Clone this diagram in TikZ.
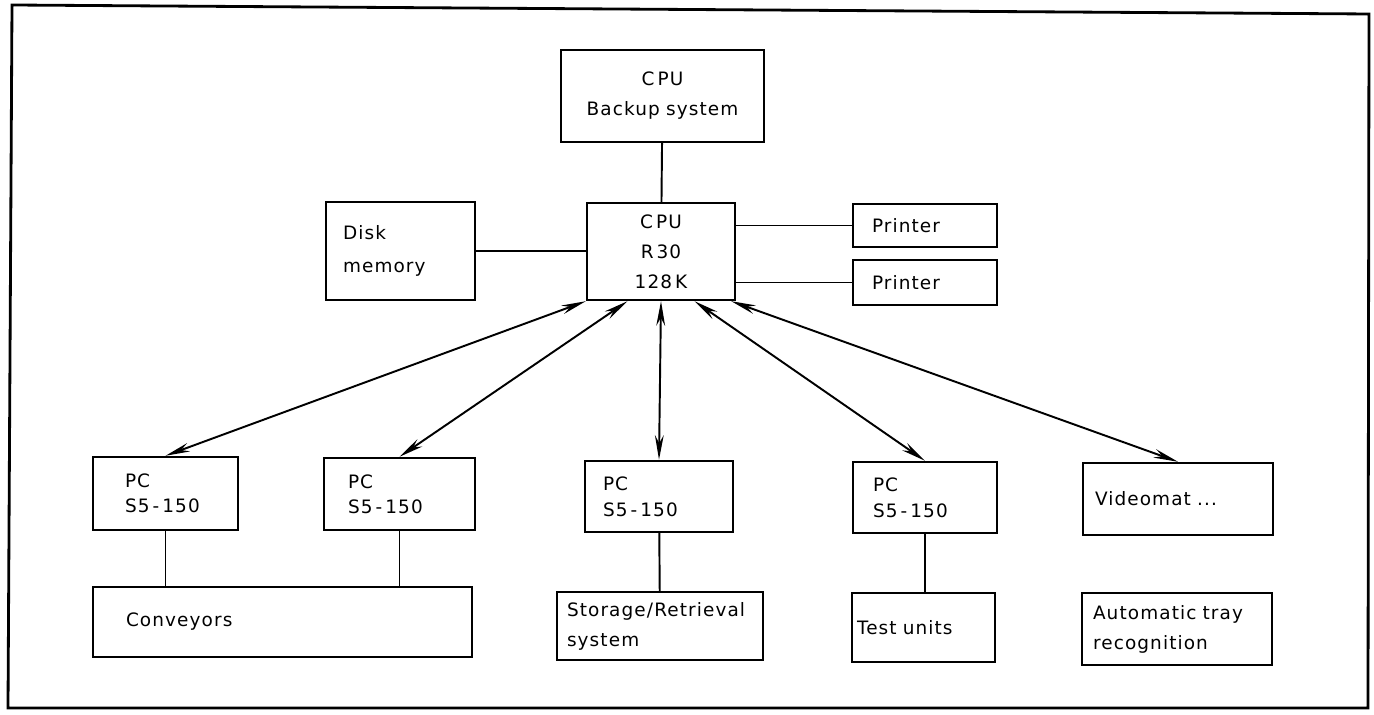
\documentclass[tikz,border=0pt]{standalone}
\usepackage{fontspec}
\setmainfont{DejaVu Sans}[LetterSpace=6]
\usetikzlibrary{calc,arrows.meta}
\tikzset{
  unit/.style={draw, line width=1.4pt, inner ysep=0pt},
  link/.style={line width=1.1pt},
  twoway/.style={line width=1.1pt, {Stealth[length=14pt,width=5pt]}-{Stealth[length=14pt,width=5pt]}}
}

\begin{document}
\begin{tikzpicture}[x=0.02cm, y=-0.02cm, font=\fontsize{10.5}{17}\selectfont]
  \useasboundingbox (0,0) rectangle (1374,715);
  \draw[line width=1.6pt] (12,5) -- (1369,14) -- (1368,708) -- (8,708) -- cycle;

  \node[unit, align=center, text width=3.58cm, inner xsep=.24cm, minimum height=1.84cm] (backup) at (662.5,96) {C\,PU\\Backup~system};
  \node[unit, align=center, text width=2.56cm, inner xsep=.2cm, minimum height=1.94cm] (cpu) at (661,251.5) {C\,PU\\R\,30\\128\,K};
  \node[unit, align=left, text width=2.30cm, inner xsep=.34cm, minimum height=1.96cm, font=\fontsize{10.5}{19}\selectfont] (disk) at (400.5,251) {Disk\\memory};
  \node[unit, align=left, text width=2.12cm, inner xsep=.38cm, minimum height=.86cm] (prA) at (925,225.5) {Printer};
  \node[unit, align=left, text width=2.12cm, inner xsep=.38cm, minimum height=.90cm] (prB) at (925,282.5) {Printer};

  \node[unit, align=left, text width=1.62cm, inner xsep=.64cm, minimum height=1.46cm, font=\fontsize{10.5}{14}\selectfont] (pcA) at (165.5,493.5) {PC\\S5\,-\,150};
  \node[unit, align=left, text width=2.06cm, inner xsep=.48cm, minimum height=1.44cm, font=\fontsize{10.5}{14}\selectfont] (pcB) at (399.5,494) {PC\\S5\,-\,150};
  \node[unit, align=left, text width=2.24cm, inner xsep=.36cm, minimum height=1.42cm, font=\fontsize{10.5}{15}\selectfont] (pcC) at (659,496.5) {PC\\S5\,-\,150};
  \node[unit, align=left, text width=2.08cm, inner xsep=.40cm, minimum height=1.42cm, font=\fontsize{10.5}{15}\selectfont] (pcD) at (925,497.5) {PC\\S5\,-\,150};
  \node[unit, align=left, text width=3.32cm, inner xsep=.24cm, minimum height=1.44cm] (video) at (1178,499) {Videomat~...};

  \node[unit, align=left, text width=6.26cm, inner xsep=.66cm, minimum height=1.40cm] (conv) at (282.5,622) {Conveyors};
  \node[unit, align=left, text width=3.72cm, inner xsep=.20cm, minimum height=1.36cm] (store) at (660,626) {Storage/Retrieval\\system};
  \node[unit, align=left, text width=2.66cm, inner xsep=.10cm, minimum height=1.38cm] (test) at (923.5,627.5) {Test~units};
  \node[unit, align=left, text width=3.36cm, inner xsep=.22cm, minimum height=1.44cm] (auto) at (1177,629) {Automatic~tray\\recognition};

  \draw[link] (backup) -- (cpu);
  \draw[link] (disk.east) -- (disk.east -| cpu.west);
  \draw[link] (prA.west -| cpu.east) -- (prA.west);
  \draw[link] (prB.west -| cpu.east) -- (prB.west);

  \draw[twoway] (cpu.south west) -- (pcA.north);
  \draw[twoway] (cpu.236) -- (pcB.north);
  \draw[twoway] (cpu.south) -- (pcC.north);
  \draw[twoway] (cpu.304) -- (pcD.north);
  \draw[twoway] ($(cpu.south east)+(-5,0)$) -- (video.north);

  \draw[link] (pcA.south) -- (pcA.south |- conv.north);
  \draw[link] (pcB.south) -- (pcB.south |- conv.north);
  \draw[link] (pcC) -- (store);
  \draw[link] (pcD.south) -- (pcD.south |- test.north);
\end{tikzpicture}
\end{document}
